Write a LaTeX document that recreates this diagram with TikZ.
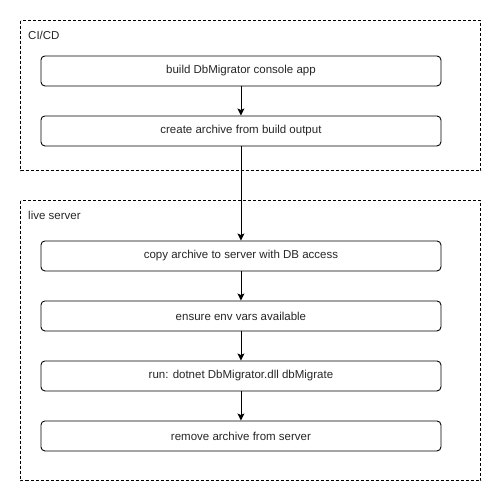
\documentclass[tikz,border=0pt]{standalone}
\usepackage{fontspec}
\setmainfont{Liberation Sans}
\usetikzlibrary{arrows.meta}
\begin{document}
\begin{tikzpicture}[x=1pt,y=-1pt,
  stepbox/.style={draw=black,line width=0.9pt,rounded corners=4pt,minimum width=400pt,minimum height=30pt,inner sep=0pt,font=\fontsize{11.5}{13}\selectfont,text=black!85,anchor=north west},
  group/.style={draw=black,line width=0.8pt,dash pattern=on 3pt off 2pt},
  grouplabel/.style={anchor=west,inner sep=0pt,font=\fontsize{11.5}{13}\selectfont,text=black!85},
  flow/.style={draw=black,line width=0.9pt,-{Stealth[length=7pt,width=7pt,inset=1.5pt]}}]
\useasboundingbox (0,0) rectangle (501,501);
\draw[group] (20.5,20.5) rectangle (480.5,170.5);
\node[grouplabel] (l1) at (28,35) {CI/CD};
\draw[group] (20.5,200.5) rectangle (480.5,480.5);
\node[grouplabel] (l2) at (28,215) {live server};
\node[stepbox] (b1) at (40.5,55.5) {build DbMigrator console app};
\node[stepbox] (b2) at (40.5,115.5) {create archive from build output};
\node[stepbox] (b3) at (40.5,240.5) {copy archive to server with DB access};
\node[stepbox] (b4) at (40.5,300.5) {ensure env vars available};
\node[stepbox] (b5) at (40.5,360.5) {run: dotnet DbMigrator.dll dbMigrate};
\node[stepbox] (b6) at (40.5,420.5) {remove archive from server};
\draw[flow] (b1) -- (b2);
\draw[flow] (b2) -- (b3);
\draw[flow] (b3) -- (b4);
\draw[flow] (b4) -- (b5);
\draw[flow] (b5) -- (b6);
\end{tikzpicture}
\end{document}
